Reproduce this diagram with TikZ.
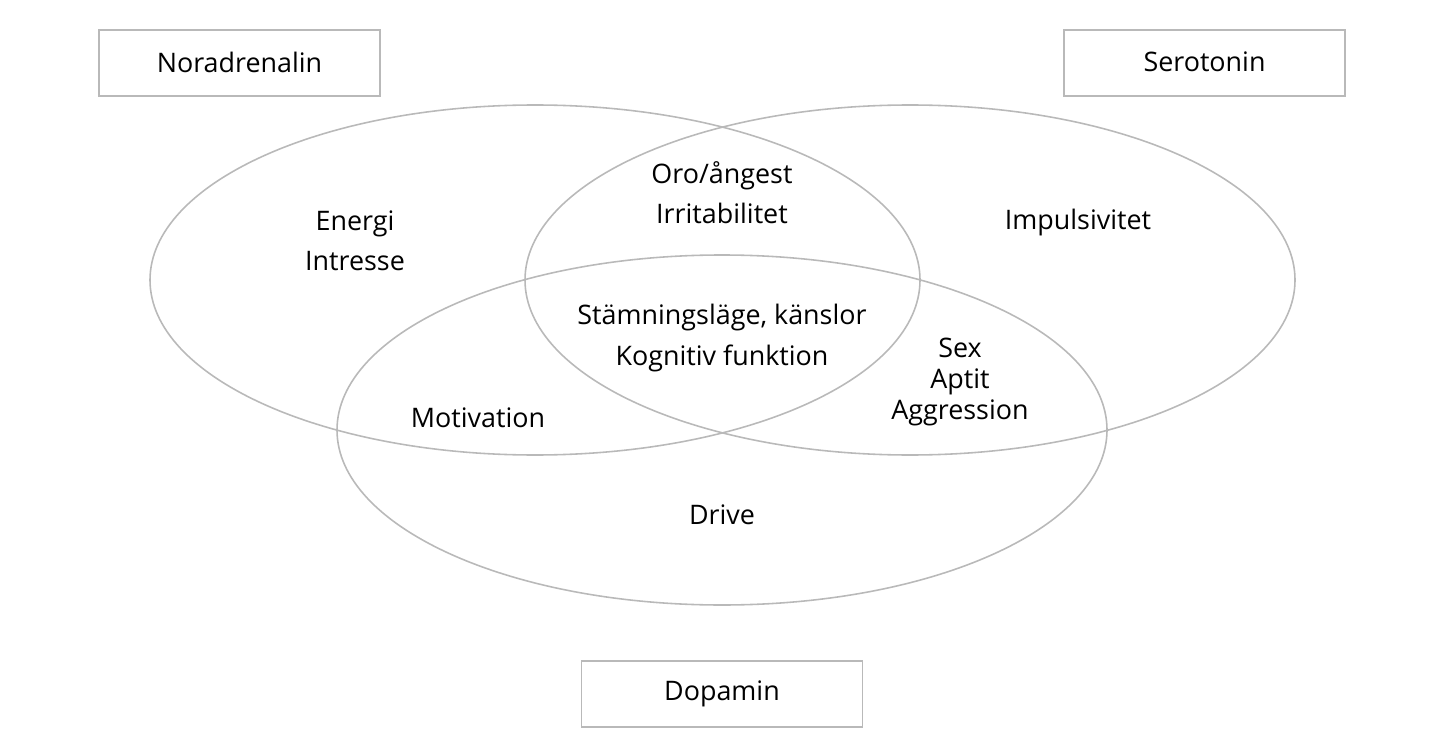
\documentclass[tikz,border=0pt]{standalone}
\usepackage{fontspec}
\setmainfont{Open Sans}
\usepackage{xcolor}
\usetikzlibrary{positioning}
\definecolor{vennline}{RGB}{185,185,185}
\tikzset{
  ring/.style={draw=vennline, line width=0.9pt},
  tag/.style={draw=vennline, line width=0.9pt, minimum width=5.62cm, minimum height=1.32cm, inner sep=0pt, font=\fontsize{15.3}{18}\selectfont},
  label/.style={align=center, inner sep=0pt, font=\fontsize{15.3}{22.8}\selectfont},
  tight/.style={label, font=\fontsize{15.3}{17.6}\selectfont}
}
\begin{document}
\begin{tikzpicture}[x=0.02cm, y=-0.02cm]
  \useasboundingbox (0,0) rectangle (1446,753);

  % three overlapping sets
  \draw[ring] (535,280) ellipse [x radius=385, y radius=175];
  \draw[ring] (910,280) ellipse [x radius=385, y radius=175];
  \draw[ring] (722,430) ellipse [x radius=385, y radius=175];

  % transmitter names
  \node[tag] (nor) at (239.5,63) {\raisebox{1pt}{Noradrenalin}};
  \node[tag] (ser) at (1204.5,63) {\raisebox{1pt}{Serotonin}};
  \node[tag] (dop) at (722,694) {\raisebox{1pt}{Dopamin}};

  % regions
  \node[label] (energy) at (355,241) {Energi\\Intresse};
  \node[label] (anxiety) at (722,193) {Oro/ångest\\Irritabilitet};
  \node[label] (impulse) at (1078,223) {Impulsivitet};
  \node[label] (mood) at (722,338) {Stämningsläge, känslor\\Kognitiv funktion};
  \node[tight] (sex) at (960,382) {Sex\\Aptit\\Aggression};
  \node[label] (motiv) at (478,418) {Motivation};
  \node[label] (drive) at (722,515) {Drive};
\end{tikzpicture}
\end{document}
